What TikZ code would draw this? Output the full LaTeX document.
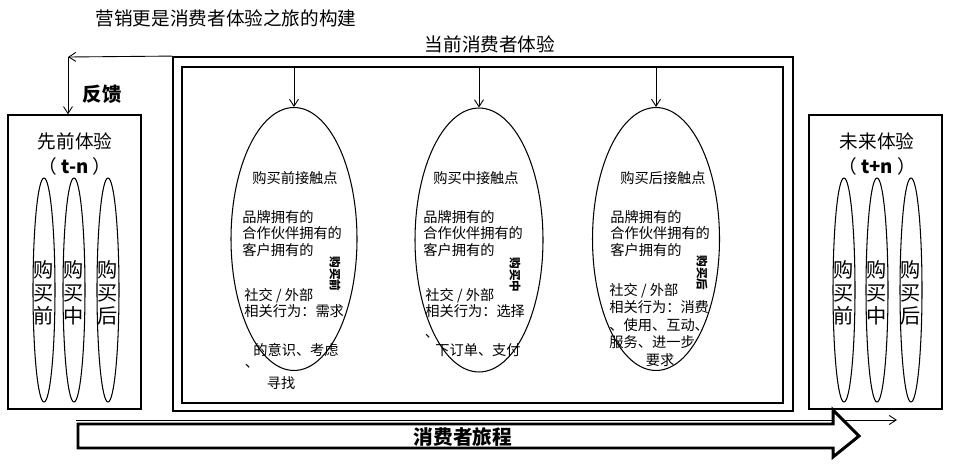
\documentclass[tikz,border=0pt]{standalone}
\usepackage{fontspec}
\setmainfont{Noto Sans CJK SC}
\usepackage{tikz}
\usetikzlibrary{positioning,arrows.meta,shapes.geometric,calc}
\newcommand{\fs}[2]{\fontsize{#1}{#2}\selectfont}
\tikzset{
  frame/.style ={draw, line width=1.1pt, inner sep=0pt},
  panel/.style ={draw, line width=0.8pt, inner sep=0pt},
  stage/.style ={draw, ellipse, line width=0.6pt, inner sep=0pt,
                 minimum width=2.52cm, minimum height=5.26cm},
  phase/.style ={draw, ellipse, line width=0.6pt, inner sep=0pt,
                 minimum width=0.44cm, minimum height=4.48cm},
  ar/.style    ={-{Straight Barb[length=1.4mm,width=1.8mm]}, line width=0.5pt},
  head/.style  ={inner sep=0pt, font=\fs{10.6}{12}},
  txt/.style   ={inner sep=0pt, font=\fs{8.1}{9.4}, align=left},
  vert/.style  ={inner sep=0pt, font=\fs{11.5}{13}, align=center},
  tag/.style   ={inner sep=0pt, font=\fs{6.6}{7}\bfseries, rotate=-90}
}

\begin{document}
\begin{tikzpicture}[x=0.02cm, y=-0.02cm]
\useasboundingbox (0,0) rectangle (980,466);
\node[head] (title) at (226,18) {营销更是消费者体验之旅的构建};
\node[head] (now) at (490,44) {当前消费者体验};

% current experience frame
\node[frame, minimum width=12.4cm, minimum height=7.08cm] (outer) at (483,234) {};
\node[frame, minimum width=12.02cm, minimum height=6.72cm] (inner) at (482.5,235) {};

% earlier and later experience
\node[panel, minimum width=2.66cm, minimum height=5.88cm] (lbox) at (74.5,262) {};
\node[panel, minimum width=2.66cm, minimum height=5.88cm] (rbox) at (875.5,262) {};
\node[head] (ltitle) at (75,141) {先前体验};
\node[head] (lt) at (75,166) {（ \textbf{t-n} ）};
\node[head] (rtitle) at (877,141) {未来体验};
\node[head] (rt) at (877,166) {（ \textbf{t+n} ）};

\node[phase] (lpre)  at (44,290) {};
\node[phase] (lmid)  at (74,290) {};
\node[phase] (lpost) at (108,290) {};
\node[phase] (rpre)  at (844,290) {};
\node[phase] (rmid)  at (877,290) {};
\node[phase] (rpost) at (911,290) {};
\foreach \n/\t in {lpre/前, lmid/中, lpost/后, rpre/前, rmid/中, rpost/后}
  \node[vert] at ($(\n)+(0,3)$) {购\\买\\\t};

% feedback
\coordinate (fb) at (68,57);
\draw[ar] (outer.north west) -- (fb);
\draw[ar] (fb) -- (fb |- lbox.north);
\node[inner sep=0pt, font=\fs{11}{12}\bfseries] (fbtxt) at (102,94) {反馈};

% touch points
\node[stage] (pre)  at (294,239) {};
\node[stage, minimum width=2.56cm, minimum height=5.28cm] (mid) at (479,240) {};
\node[stage, minimum width=2.54cm] (post) at (656,239) {};
\foreach \n in {pre,mid,post}
  \draw[ar] (\n |- inner.north) -- (\n.north);

\node[txt] at (295,178) {购买前接触点};
\node[txt, anchor=west] at (242,233.5) {品牌拥有的\\合作伙伴拥有的\\客户拥有的};
\node[txt, anchor=west] at (244,303) {社交 / 外部\\相关行为：需求};
\node[txt] at (296,350) {的意识、考虑};
\node[txt] at (252,366) {、};
\node[txt] at (281,383) {寻找};
\node[tag] at (335,274) {购买前};

\node[txt] at (476,178) {购买中接触点};
\node[txt, anchor=west] at (423,233.5) {品牌拥有的\\合作伙伴拥有的\\客户拥有的};
\node[txt, anchor=west] at (425,303) {社交 / 外部\\相关行为：选择};
\node[txt] at (432,336) {、};
\node[txt] at (478,350) {下订单、支付};
\node[tag] at (515,275) {购买中};

\node[txt] at (663,178) {购买后接触点};
\node[txt, anchor=west] at (610,233.5) {品牌拥有的\\合作伙伴拥有的\\客户拥有的};
\node[txt, anchor=west, font=\fs{8.1}{9.8}] at (609,316) {社交 / 外部\\相关行为：消费\\、使用、互动、\\服务、进一步};
\node[txt] at (660,360) {要求};
\node[tag] at (702,273) {购买后};

% consumer journey
\coordinate (jstart) at (76,420);
\coordinate (jend) at (897,420);
\draw[ar] (jstart) -- (jend);
\draw[line width=1.7pt, fill=white, line join=miter]
  (78,424) -- (833,424) -- (833,410) -- (859,436) -- (833,457)
  -- (833,448) -- (78,448) -- cycle;
\node[inner sep=0pt, font=\fs{11.2}{12}\bfseries] (journey) at (463,437) {消费者旅程};
\end{tikzpicture}
\end{document}
